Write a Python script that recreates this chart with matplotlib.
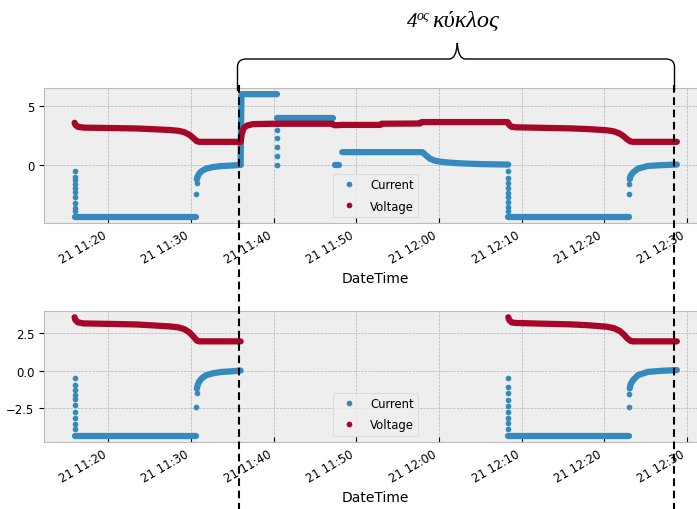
import numpy as np
import matplotlib
matplotlib.use('Agg')
import matplotlib.pyplot as plt
import matplotlib.dates as mdates
from matplotlib.lines import Line2D
from matplotlib.path import Path
from matplotlib.patches import PathPatch

# times are minutes after 21 11:00
# --- discharge 1 (both panels) ---
d1_drop_t = [15.9] * 10
d1_drop = [-0.51, -0.96, -1.29, -1.62, -1.91, -2.29, -2.73, -3.18, -3.58, -3.89]
d1_cur_t = [15.9, 30.6]
d1_cur = [-4.36, -4.36]
d1_jump_t = [30.62, 30.66]
d1_jump = [-2.40, -1.51]
d1_rec_t = [30.7, 30.8, 31.0, 31.3, 31.8, 32.6, 33.6, 35.0, 36.0]
d1_rec = [-1.2, -0.96, -0.7, -0.5, -0.3, -0.17, -0.08, -0.03, 0.02]
d1_volt_t = [15.9, 16.0, 16.3, 17.0, 20.0, 23.4, 25.0, 27.4, 28.5, 29.2, 29.8, 30.3, 30.7, 31.0, 36.0]
d1_volt = [3.58, 3.40, 3.24, 3.17, 3.14, 3.10, 3.05, 2.97, 2.90, 2.78, 2.57, 2.28, 2.02, 1.97, 1.97]

# --- charge (top panel only) ---
ch_hi_t = [36.0, 36.1, 40.4]
ch_hi = [0.02, 6.0, 6.0]
ch_drop_t = [40.4] * 6
ch_drop = [0.03, 0.8, 1.56, 2.26, 2.97, 3.5]
ch_mid_t = [40.4, 47.15]
ch_mid = [4.0, 4.0]
ch_zero_t = [47.45, 47.95]
ch_zero = [0.02, 0.02]
ch_lo_t = [48.3, 58.0, 58.4, 58.9, 59.5, 60.3, 61.5, 63.0, 65.0, 68.4]
ch_lo = [1.1, 1.1, 0.85, 0.55, 0.38, 0.28, 0.2, 0.14, 0.09, 0.05]
ch_volt_t = [36.0, 36.15, 36.4, 36.8, 37.5, 40.0, 47.1, 47.3, 47.9, 48.2, 52.9, 53.1, 57.7, 57.9, 68.3]
ch_volt = [1.97, 2.7, 3.15, 3.35, 3.47, 3.5, 3.5, 3.38, 3.38, 3.4, 3.4, 3.5, 3.52, 3.64, 3.64]

# --- discharge 2 (both panels) ---
d2_drop_t = [68.4] * 9
d2_drop = [-0.51, -1.07, -1.51, -1.96, -2.33, -2.73, -3.13, -3.51, -3.89]
d2_cur_t = [68.4, 83.0]
d2_cur = [-4.36, -4.36]
d2_jump_t = [83.0, 83.05]
d2_jump = [-2.43, -1.58]
d2_rec_t = [83.1, 83.2, 83.5, 84.1, 85.3, 86.9, 88.8]
d2_rec = [-1.18, -0.9, -0.62, -0.29, -0.07, 0.0, 0.05]
d2_volt_t = [68.4, 68.5, 68.8, 69.3, 72.0, 75.8, 78.0, 80.3, 81.2, 81.9, 82.4, 82.8, 83.2, 83.5, 88.8]
d2_volt = [3.58, 3.40, 3.24, 3.20, 3.16, 3.11, 3.05, 2.95, 2.85, 2.66, 2.42, 2.17, 2.0, 1.97, 1.97]

cycle_label = ['4', 'ος', 'κύκλος']

C_CUR = '#348ABD'
C_VOLT = '#A60628'
W, H = 697, 510

plt.style.use('bmh')
plt.rcParams['font.size'] = 8.4
plt.rcParams['axes.labelsize'] = 10
plt.rcParams['xtick.direction'] = 'in'
plt.rcParams['ytick.direction'] = 'out'


def when(mins):
    base = np.datetime64('2021-06-21T11:00:00')
    return base + (np.asarray(mins) * 60000).round().astype('timedelta64[ms]')


def fx(x):
    return x / W


def fy(y):
    return 1 - y / H


def trace(ax, t, v, c):
    ax.plot(when(t), v, '-', color=c, lw=4.5, solid_capstyle='round', zorder=3)


def dots(ax, t, v, c):
    ax.plot(when(t), v, 'o', color=c, ms=4.1, mew=0, zorder=3)


def style(ax, yticks, ylim):
    ax.set_xlim(when([12.2, 92.45]))
    ax.set_ylim(ylim)
    ax.set_yticks(yticks)
    ax.xaxis.set_major_locator(mdates.MinuteLocator(byminute=[0, 10, 20, 30, 40, 50]))
    ax.xaxis.set_major_formatter(mdates.DateFormatter('%d %H:%M'))
    for lab in ax.get_xticklabels():
        lab.set_rotation(30)
        lab.set_ha('right')
    ax.set_xlabel('DateTime')
    handles = [Line2D([], [], ls='none', marker='o', ms=4.1, mew=0, color=C_CUR),
               Line2D([], [], ls='none', marker='o', ms=4.1, mew=0, color=C_VOLT)]
    ax.legend(handles, ['Current', 'Voltage'], loc='lower center', numpoints=1,
              labelspacing=0.7)


fig = plt.figure(figsize=(W / 100, H / 100), dpi=100)
ax1 = fig.add_axes([fx(44), fy(224), fx(707 - 44), (224 - 89) / H])
ax2 = fig.add_axes([fx(44), fy(443), fx(707 - 44), (443 - 312) / H])

# top panel: whole record
for t, v in [(d1_cur_t, d1_cur), (d1_rec_t, d1_rec), (ch_hi_t, ch_hi), (ch_mid_t, ch_mid),
             (ch_zero_t, ch_zero), (ch_lo_t, ch_lo), (d2_cur_t, d2_cur), (d2_rec_t, d2_rec)]:
    trace(ax1, t, v, C_CUR)
for t, v in [(d1_drop_t, d1_drop), (d1_jump_t, d1_jump), (ch_drop_t, ch_drop),
             (d2_drop_t, d2_drop), (d2_jump_t, d2_jump)]:
    dots(ax1, t, v, C_CUR)
trace(ax1, d1_volt_t + ch_volt_t + d2_volt_t, d1_volt + ch_volt + d2_volt, C_VOLT)
style(ax1, [0, 5], (-4.89, 6.52))

# bottom panel: discharge parts only
for t, v in [(d1_cur_t, d1_cur), (d1_rec_t, d1_rec), (d2_cur_t, d2_cur), (d2_rec_t, d2_rec)]:
    trace(ax2, t, v, C_CUR)
for t, v in [(d1_drop_t, d1_drop), (d1_jump_t, d1_jump), (d2_drop_t, d2_drop), (d2_jump_t, d2_jump)]:
    dots(ax2, t, v, C_CUR)
trace(ax2, d1_volt_t, d1_volt, C_VOLT)
trace(ax2, d2_volt_t, d2_volt, C_VOLT)
style(ax2, [-2.5, 0, 2.5], (-4.76, 4.0))

# dashed cycle markers across both panels
for xp in [238.5, 673.7]:
    fig.add_artist(Line2D([fx(xp), fx(xp)], [fy(86), fy(510)], transform=fig.transFigure,
                          color='black', lw=1.5, ls=(0, (3.7, 2.2)), zorder=10))

# curly brace over the 4th cycle
verts = [(237.5, 92), (237.5, 68), (237.5, 60), (246, 60),
         (449, 60), (456.5, 60), (457.3, 44), (458.1, 60), (465.5, 60),
         (666, 60), (674.5, 60), (674.5, 68), (674.5, 92)]
codes = [Path.MOVETO, Path.LINETO, Path.CURVE3, Path.CURVE3,
         Path.LINETO, Path.CURVE3, Path.CURVE3, Path.CURVE3, Path.CURVE3,
         Path.LINETO, Path.CURVE3, Path.CURVE3, Path.LINETO]
brace = Path([(fx(x), fy(y)) for x, y in verts], codes)
fig.add_artist(PathPatch(brace, fill=False, lw=1.0, ec='black', transform=fig.transFigure, zorder=10))

serif = ['Liberation Serif', 'DejaVu Serif']
fig.text(fx(406.5), fy(27), cycle_label[0], fontsize=15, style='italic', family=serif, va='baseline')
fig.text(fx(416.5), fy(19.5), cycle_label[1], fontsize=10, style='italic', family=serif, va='baseline')
fig.text(fx(432), fy(27), cycle_label[2], fontsize=17.5, style='italic', family=serif, va='baseline')

fig.savefig('out.png', dpi=100)
